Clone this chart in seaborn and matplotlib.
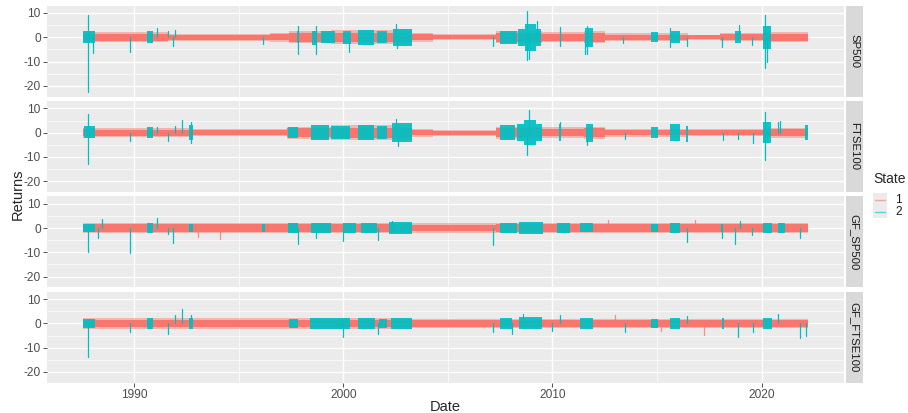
import pandas as pd
import seaborn as sns
import matplotlib.pyplot as plt
from matplotlib.patches import Rectangle
from matplotlib.lines import Line2D

PANELS = ['SP500', 'FTSE100', 'GF_SP500', 'GF_FTSE100']
STATES = ['1', '2']
STATE_COLORS = {'1': '#F8766D', '2': '#00BFC4'}
X_TICKS = [1990, 2000, 2010, 2020]
Y_TICKS = [-20, -10, 0, 10]

# state 1 background band: step edges (year) and half width (%)
SP500_BAND_EDGES = [1987.55, 1988.15, 1991.6, 1996.5, 1997.4, 1999.4, 2003.3, 2004.3,
                    2007.3, 2009.5, 2011.5, 2012.5, 2016.5, 2018.0, 2020.1, 2022.21]
SP500_BAND_AMP = [2.0, 2.0, 1.5, 1.8, 2.5, 2.8, 1.8, 1.3, 2.5, 2.0, 2.5, 1.6, 1.1, 1.7, 2.0]
FTSE_BAND_EDGES = [1987.55, 1988.15, 1992.8, 1997.3, 1999.4, 2003.3, 2004.3, 2007.3,
                   2009.5, 2011.5, 2012.5, 2016.5, 2020.1, 2022.21]
FTSE_BAND_AMP = [2.0, 1.8, 1.5, 2.5, 3.0, 1.6, 1.2, 2.5, 2.2, 2.5, 1.6, 1.5, 2.0]
GFSP_BAND_EDGES = [1987.55, 2003.3, 2007.3, 2022.21]
GFSP_BAND_AMP = [2.2, 2.0, 2.2]
GFFT_BAND_EDGES = [1987.55, 2003.3, 2007.3, 2022.21]
GFFT_BAND_AMP = [2.1, 1.9, 2.0]

# state 2 stretches: start, end, upper, lower
SP500_STATE2 = [(1987.58, 1988.15, 3.0, -3.0), (1990.6, 1990.92, 2.8, -2.6),
                (1997.78, 1997.9, 3.0, -3.0), (1998.5, 1998.75, 3.0, -3.5),
                (1998.95, 1999.6, 2.8, -2.8), (2000.0, 2000.35, 3.0, -3.2),
                (2000.72, 2001.45, 3.5, -3.5), (2001.6, 2002.1, 3.0, -3.0),
                (2002.4, 2003.27, 4.0, -4.0), (2007.5, 2008.3, 3.2, -3.2),
                (2008.37, 2008.7, 4.0, -4.0), (2008.7, 2009.2, 6.5, -6.5),
                (2009.2, 2009.45, 4.0, -4.0), (2011.56, 2011.96, 4.5, -4.5),
                (2014.7, 2015.06, 2.5, -2.5), (2015.6, 2016.1, 3.0, -3.0),
                (2018.75, 2019.0, 3.0, -3.0), (2020.08, 2020.45, 5.5, -5.5)]
FTSE_STATE2 = [(1987.6, 1988.15, 3.0, -2.5), (1990.6, 1990.92, 2.5, -2.8),
               (1992.65, 1992.8, 3.5, -3.5), (1997.38, 1997.85, 2.5, -2.5),
               (1998.45, 1999.3, 3.5, -3.5), (1999.4, 2000.33, 3.0, -3.0),
               (2000.72, 2001.45, 3.5, -3.5), (2001.6, 2002.1, 3.0, -3.0),
               (2002.32, 2003.27, 4.5, -4.5), (2007.5, 2008.2, 3.5, -3.5),
               (2008.3, 2008.65, 4.0, -4.0), (2008.65, 2009.2, 6.0, -6.0),
               (2009.2, 2009.5, 4.0, -4.0), (2010.3, 2010.4, 4.0, -4.0),
               (2011.6, 2011.96, 4.0, -4.5), (2014.7, 2015.06, 2.5, -2.5),
               (2015.6, 2016.1, 4.0, -4.0), (2016.4, 2016.5, 3.3, -4.6),
               (2020.08, 2020.45, 5.0, -5.0), (2022.1, 2022.21, 3.5, -3.5)]
GFSP_STATE2 = [(1987.55, 1988.15, 2.0, -2.0), (1990.6, 1990.92, 2.5, -2.5),
               (1992.65, 1992.8, 2.0, -2.0), (1996.1, 1996.25, 2.0, -2.0),
               (1997.35, 1997.85, 2.2, -2.2), (1998.45, 1999.4, 2.5, -2.5),
               (2000.0, 2000.6, 2.5, -2.5), (2000.85, 2001.6, 2.5, -2.5),
               (2002.2, 2003.27, 2.8, -2.8), (2007.5, 2008.3, 2.5, -2.5),
               (2008.4, 2009.55, 2.8, -2.8), (2010.2, 2010.84, 2.5, -2.5),
               (2011.3, 2011.96, 2.5, -2.0), (2014.7, 2015.06, 2.0, -2.0),
               (2015.6, 2016.1, 2.5, -2.5), (2018.05, 2018.15, 2.0, -2.0),
               (2020.08, 2020.5, 2.5, -2.5), (2020.8, 2021.12, 2.2, -2.2)]
GFFT_STATE2 = [(1987.55, 1988.15, 2.0, -2.0), (1990.6, 1990.92, 2.5, -2.5),
               (1992.65, 1992.8, 2.5, -2.5), (1997.4, 1997.85, 2.0, -2.0),
               (1998.4, 1999.35, 2.5, -2.5), (1999.37, 2000.33, 2.5, -2.5),
               (2000.72, 2001.5, 2.5, -2.5), (2001.7, 2002.1, 2.2, -2.2),
               (2002.3, 2003.27, 2.5, -2.5), (2007.5, 2008.05, 2.5, -2.5),
               (2008.4, 2009.5, 3.0, -2.8), (2011.3, 2011.96, 2.5, -2.5),
               (2014.7, 2015.06, 2.0, -2.0), (2015.6, 2016.1, 2.5, -2.5),
               (2018.1, 2018.2, 2.5, -2.5), (2020.08, 2020.5, 2.5, -2.5)]

# single large daily moves: year, return (%), state
SP500_SPIKES = [(1987.82, -22.7, '2'), (1987.82, 9.0, '2'), (1988.05, -6.5, '2'),
                (1989.81, -6.0, '2'), (1991.08, 3.7, '2'), (1991.64, 2.5, '2'),
                (1991.88, -3.5, '2'), (1991.96, 3.0, '2'), (1996.18, -2.8, '2'),
                (1997.82, 4.8, '2'), (1997.82, -6.8, '2'), (1998.68, 4.5, '2'),
                (1998.68, -6.8, '2'), (2000.29, -6.0, '2'), (2002.5, 5.6, '2'),
                (2002.55, -4.5, '2'), (2007.18, -3.5, '2'), (2008.8, 11.0, '2'),
                (2008.77, -9.4, '2'), (2008.9, -9.0, '2'), (2009.25, 6.6, '2'),
                (2010.36, 4.2, '2'), (2010.36, -3.5, '2'), (2011.64, 4.7, '2'),
                (2011.64, -6.7, '2'), (2011.56, -6.7, '2'), (2013.39, -2.5, '2'),
                (2015.62, 3.8, '2'), (2015.62, -4.0, '2'), (2016.45, -3.6, '2'),
                (2018.09, -4.1, '2'), (2018.94, 4.9, '2'), (2019.53, -3.0, '2'),
                (2020.18, 9.0, '2'), (2020.18, -12.7, '2'), (2020.25, -10.0, '2')]
FTSE_SPIKES = [(1987.82, 7.6, '2'), (1987.82, -13.0, '2'), (1989.81, -3.3, '2'),
               (1991.08, 2.2, '2'), (1991.64, -3.3, '2'), (1991.96, 2.9, '2'),
               (1992.31, 5.3, '2'), (1992.72, -4.3, '2'), (1992.72, 4.2, '2'),
               (2002.5, 5.6, '2'), (2002.6, -5.6, '2'), (2008.88, 9.3, '2'),
               (2008.77, -9.4, '2'), (2010.36, 4.5, '2'), (2011.64, -5.0, '2'),
               (2013.47, -2.7, '2'), (2018.14, -3.0, '2'), (2018.85, -2.5, '2'),
               (2019.61, -4.3, '2'), (2020.18, 8.6, '2'), (2020.18, -11.4, '2'),
               (2020.8, 4.2, '2'), (2020.88, 4.6, '2')]
GFSP_SPIKES = [(1993.07, -3.5, '1'), (1994.11, -4.5, '1'), (2012.68, 3.4, '1'),
               (2016.82, 3.4, '1'),
               (1987.82, -10.0, '2'), (1988.29, -4.3, '2'), (1988.45, 3.8, '2'),
               (1989.81, -10.2, '2'), (1991.08, 4.0, '2'), (1991.64, -2.3, '2'),
               (1991.88, -6.0, '2'), (1997.82, -6.4, '2'), (1998.68, -4.3, '2'),
               (2000.01, -5.3, '2'), (2001.68, -4.8, '2'), (2002.32, 3.0, '2'),
               (2007.15, -7.0, '2'), (2016.45, -5.7, '2'), (2018.09, -4.3, '2'),
               (2018.73, -6.4, '2'), (2018.97, 3.0, '2'), (2019.53, -3.0, '2'),
               (2021.84, -4.3, '2')]
GFFT_SPIKES = [(2012.99, 3.4, '1'), (2015.17, -3.0, '1'), (2017.25, -4.8, '1'),
               (1987.82, -14.0, '2'), (1989.81, -3.4, '2'), (1991.64, -4.5, '2'),
               (1991.96, 3.4, '2'), (1992.31, 6.1, '2'), (1992.72, 3.4, '2'),
               (2000.01, -5.4, '2'), (2001.68, -4.3, '2'), (2007.18, -3.5, '2'),
               (2008.05, -4.5, '2'), (2008.6, 4.0, '2'), (2009.97, -3.0, '2'),
               (2010.36, 3.4, '2'), (2013.47, -3.4, '2'), (2016.45, 3.0, '2'),
               (2018.89, -5.4, '2'), (2019.61, -3.5, '2'), (2020.8, 3.7, '2'),
               (2021.84, -5.8, '2'), (2022.12, -5.0, '2')]

BANDS = {'SP500': (SP500_BAND_EDGES, SP500_BAND_AMP), 'FTSE100': (FTSE_BAND_EDGES, FTSE_BAND_AMP),
         'GF_SP500': (GFSP_BAND_EDGES, GFSP_BAND_AMP), 'GF_FTSE100': (GFFT_BAND_EDGES, GFFT_BAND_AMP)}
STATE2 = {'SP500': SP500_STATE2, 'FTSE100': FTSE_STATE2,
          'GF_SP500': GFSP_STATE2, 'GF_FTSE100': GFFT_STATE2}
SPIKES = {'SP500': SP500_SPIKES, 'FTSE100': FTSE_SPIKES,
          'GF_SP500': GFSP_SPIKES, 'GF_FTSE100': GFFT_SPIKES}

# long table for the spikes: each one is a tiny vertical line from 0
rows = []
for p in PANELS:
    for i, (yr, val, st) in enumerate(SPIKES[p]):
        rows.append((p, i, yr, 0.0, st))
        rows.append((p, i, yr, val, st))
spikes = pd.DataFrame(rows, columns=['panel', 'id', 'Date', 'Returns', 'State'])

sns.set_theme(style='darkgrid', rc={
    'axes.facecolor': '#EBEBEB', 'grid.color': 'white', 'axes.edgecolor': 'none',
    'xtick.color': '#333333', 'ytick.color': '#333333',
    'xtick.labelcolor': '#4D4D4D', 'ytick.labelcolor': '#4D4D4D',
    'xtick.major.size': 3, 'ytick.major.size': 3,
    'xtick.major.width': 0.6, 'ytick.major.width': 0.6,
    'xtick.bottom': True, 'ytick.left': True,
    'axes.unicode_minus': False})
plt.rcParams['font.family'] = ['Liberation Sans', 'DejaVu Sans']

fig, axes = plt.subplots(4, 1, figsize=(9.08, 4.13), dpi=100, sharex=True, sharey=True)
fig.subplots_adjust(left=0.0518, right=0.9295, top=0.9862, bottom=0.0734, hspace=0.05)

for ax, p in zip(axes, PANELS):
    edges, amp = BANDS[p]
    amp_step = amp + [amp[-1]]
    # dense daily noise of state 1: soft outer edge, solid core
    ax.fill_between(edges, amp_step, [-a for a in amp_step], step='post',
                    color=STATE_COLORS['1'], alpha=0.45, lw=0)
    ax.fill_between(edges, [0.7 * a for a in amp_step], [-0.7 * a for a in amp_step],
                    step='post', color=STATE_COLORS['1'], lw=0)
    sub = spikes[spikes['panel'] == p]
    sns.lineplot(data=sub[sub['State'] == '1'], x='Date', y='Returns', hue='State',
                 units='id', estimator=None, sort=False, palette=STATE_COLORS,
                 linewidth=0.9, alpha=0.8, legend=False, ax=ax)
    for s, e, up, lo in STATE2[p]:
        ax.fill_between([s, e], [0.85 * up] * 2, [0.85 * lo] * 2,
                        color=STATE_COLORS['2'], alpha=0.92, lw=0)
    sns.lineplot(data=sub[sub['State'] == '2'], x='Date', y='Returns', hue='State',
                 units='id', estimator=None, sort=False, palette=STATE_COLORS,
                 linewidth=0.9, legend=False, ax=ax)

    ax.set_xlim(1985.84, 2023.94)
    ax.set_ylim(-24.4, 13.0)
    ax.set_xticks(X_TICKS)
    ax.set_xticks([1995, 2005, 2015], minor=True)
    ax.set_yticks(Y_TICKS)
    ax.set_yticks([-15, -5, 5], minor=True)
    ax.grid(which='major', color='white', lw=1.0)
    ax.grid(which='minor', color='white', lw=0.5)
    ax.tick_params(axis='both', which='minor', length=0)
    ax.tick_params(axis='both', which='major', labelsize=8.6, pad=1.5)
    ax.set_xlabel('')
    ax.set_ylabel('')
    ax.add_patch(Rectangle((1.002, 0), 0.0213, 1, transform=ax.transAxes,
                           color='#D9D9D9', clip_on=False, lw=0))
    ax.text(1.0127, 0.5, p, transform=ax.transAxes, rotation=-90, ha='center',
            va='center', fontsize=8.2, color='#1A1A1A')

for ax in axes[:-1]:
    ax.tick_params(axis='x', which='both', bottom=False)

fig.text(445.5 / 908, 1 - 407 / 413, 'Date', ha='center', va='center', fontsize=10.5)
fig.text(18 / 908, 1 - 194 / 413, 'Returns', ha='center', va='center',
         rotation=90, fontsize=10.5)

# legend drawn the ggplot way: title, grey key boxes, short lines
fig.text(873 / 908, 1 - 179 / 413, 'State', ha='left', va='center', fontsize=10)
fig.patches.append(Rectangle((873 / 908, 1 - 218 / 413), 14 / 908, 25 / 413,
                             transform=fig.transFigure, color='#EBEBEB', lw=0))
for i, st in enumerate(STATES):
    yk = 1 - (199.5 + 12.5 * i) / 413
    fig.lines.append(Line2D([875 / 908, 885 / 908], [yk, yk], transform=fig.transFigure,
                            color=STATE_COLORS[st], alpha=0.6, lw=1.0))
    fig.text(895 / 908, yk, st, ha='left', va='center', fontsize=8.6, color='#1A1A1A')

fig.savefig('out.png', dpi=100)
